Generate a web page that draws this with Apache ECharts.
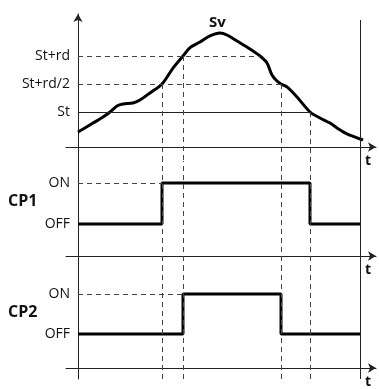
<!DOCTYPE html>
<html><head><meta charset="utf-8">
<script src="https://cdn.jsdelivr.net/npm/echarts@6/dist/echarts.min.js"></script>
<style>html,body{margin:0;padding:0;background:#fff}#c{width:379px;height:389px}</style>
</head><body><div id="c"></div>
<script>
// ---- data (time in arbitrary units, t = 0 at the vertical axis) ----
const svTime   = [0,15,25,32,39,45,55,62,72,84,95,105,112,122,132,142,149,159,172,182,189,194,199,203,209,219,232,242,252,259,269,285];
const svValues = [18.57,19.21,19.64,20.0,20.43,20.57,20.64,20.86,21.36,22.0,23.14,24.0,24.6,25.0,25.43,25.64,25.5,25.07,24.5,24.0,23.5,22.64,22.21,22.0,21.79,21.07,20.0,19.57,19.21,18.86,18.43,18.0];
const St = 20, rd = 4;
const levelValues = [St, St + rd / 2, St + rd];
const levelLabels = ['St', 'St+rd/2', 'St+rd'];
// crossing times of Sv with the levels
const riseHalf = 84, riseFull = 105, fallFull = 182, fallHalf = 203, fallSt = 232;
const tEnd = 282;
const cp1Time  = [0, riseHalf, fallSt, tEnd];
const cp1State = [0, 1, 0, 0];
const cp2Time  = [0, riseFull, fallHalf, tEnd];
const cp2State = [0, 1, 0, 0];
const stateValues = [0, 1];
const stateLabels = ['OFF', 'ON'];

// ---- style ----
const FONT = 'Open Sans';
const dash = { color: '#444', width: 1, type: [5, 4] };
const solidThin = { color: '#222', width: 1, type: 'solid' };
const arrowLine = { show: true, onZero: false, symbol: ['none', 'arrow'], symbolSize: [7, 8], lineStyle: { color: '#222', width: 1 } };

function xAx(gi, offset) {
  return {
    type: 'value', gridIndex: gi, min: -12, max: 298, offset: offset,
    axisLine: arrowLine, axisTick: { show: false }, axisLabel: { show: false }, splitLine: { show: false },
    name: 't', nameLocation: 'end', nameGap: -8,
    nameTextStyle: { fontFamily: FONT, fontWeight: 'bold', fontSize: 14, color: '#111', align: 'center', verticalAlign: 'top', padding: [7, 0, 0, 0] }
  };
}
function yAx(gi, min, max, vals, labels, arrow) {
  return {
    type: 'value', gridIndex: gi, min: min, max: max,
    axisLine: { show: true, onZero: true, symbol: arrow ? ['none', 'arrow'] : 'none', symbolSize: [7, 8], lineStyle: { color: '#222', width: 1 } },
    axisTick: { show: false }, splitLine: { show: false },
    axisLabel: { customValues: vals, margin: -4, fontFamily: FONT, fontSize: 14, color: '#111',
      formatter: v => labels[vals.indexOf(v)] }
  };
}
function vline(t, style) { return { xAxis: t, lineStyle: style }; }
function seg(a, b, style) { return [{ coord: a, lineStyle: style }, { coord: b }]; }

const topMin = 16.5, topMax = 27;
const option = {
  animation: false,
  backgroundColor: '#fff',
  grid: [
    { left: 66, width: 310, top: 14, height: 147 },
    { left: 66, width: 310, top: 161, height: 109 },
    { left: 66, width: 310, top: 270, height: 114 }
  ],
  xAxis: [xAx(0, -14), xAx(1, -14), xAx(2, -11)],
  yAxis: [
    yAx(0, topMin, topMax, levelValues, levelLabels, true),
    yAx(1, -1.122, 1.537, stateValues, stateLabels, false),
    yAx(2, -1.119, 1.595, stateValues, stateLabels, false)
  ],
  graphic: [
    { type: 'text', left: 209, top: 15, style: { text: 'Sv', font: 'bold 15px "Open Sans"', fill: '#111' } },
    { type: 'text', left: 8, top: 193, style: { text: 'CP1', font: 'bold 16px "Open Sans"', fill: '#111' } },
    { type: 'text', left: 8, top: 304, style: { text: 'CP2', font: 'bold 16px "Open Sans"', fill: '#111' } }
  ],
  series: [
    {
      type: 'line', xAxisIndex: 0, yAxisIndex: 0, smooth: 0.3, symbol: 'none',
      lineStyle: { color: '#000', width: 3 },
      data: svTime.map((t, i) => [t, svValues[i]]),
      markLine: {
        silent: true, symbol: 'none', label: { show: false },
        data: [
          seg([0, St + rd], [fallFull, St + rd], dash),
          seg([0, St + rd / 2], [fallHalf, St + rd / 2], dash),
          seg([0, St], [fallSt, St], solidThin),
          seg([riseHalf, St + rd / 2], [riseHalf, topMin], dash),
          seg([riseFull, St + rd], [riseFull, topMin], dash),
          seg([fallHalf, St + rd / 2], [fallHalf, topMin], dash),
          seg([fallSt, St], [fallSt, topMin], dash),
          seg([tEnd, 26.57], [tEnd, topMin], solidThin)
        ]
      }
    },
    {
      type: 'line', xAxisIndex: 1, yAxisIndex: 1, step: 'end', symbol: 'none',
      lineStyle: { color: '#000', width: 3 },
      data: cp1Time.map((t, i) => [t, cp1State[i]]),
      markLine: {
        silent: true, symbol: 'none', label: { show: false },
        data: [
          seg([0, 1], [riseHalf, 1], dash),
          vline(riseHalf, dash), vline(riseFull, dash), vline(fallHalf, dash), vline(fallSt, dash),
          vline(tEnd, solidThin)
        ]
      }
    },
    {
      type: 'line', xAxisIndex: 2, yAxisIndex: 2, step: 'end', symbol: 'none',
      lineStyle: { color: '#000', width: 3 },
      data: cp2Time.map((t, i) => [t, cp2State[i]]),
      markLine: {
        silent: true, symbol: 'none', label: { show: false },
        data: [
          seg([0, 1], [riseFull, 1], dash),
          vline(riseHalf, dash), vline(riseFull, dash), vline(fallHalf, dash), vline(fallSt, dash),
          vline(tEnd, solidThin)
        ]
      }
    }
  ]
};
const chart = echarts.init(document.getElementById('c'), null, { renderer: 'canvas' });
chart.setOption(option);
</script>
</body></html>
